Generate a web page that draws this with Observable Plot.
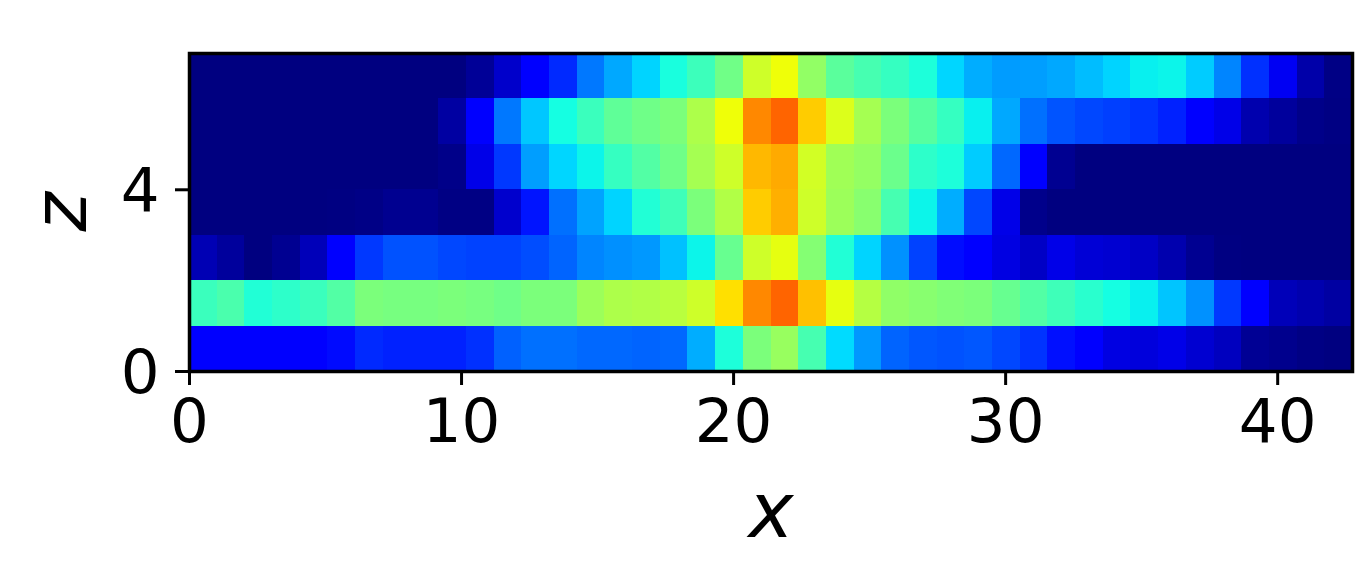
<!DOCTYPE html>
<html>
<head>
<meta charset="utf-8">
<style>
html,body{margin:0;padding:0;background:#fff;}
</style>
<script src="https://cdn.jsdelivr.net/npm/d3@7"></script>
<script src="https://cdn.jsdelivr.net/npm/@observablehq/plot@0.6"></script>
</head>
<body>
<div id="chart"></div>
<script>
const xTicks = [0, 10, 20, 30, 40];
const zTicks = [0, 4];
const xExtent = 42.75;
const zExtent = 7;

const row0 = [.11,.11,.11,.115,.11,.135,.165,.157,.157,.157,.172,.22,.235,.235,.227,.227,.223,.227,.295,.385,.5,.535,.435,.34,.274,.223,.21,.205,.21,.195,.175,.14,.11,.085,.08,.09,.07,.055,.018,.012,.004,0];
const row1 = [.42,.44,.39,.405,.42,.45,.5,.495,.495,.5,.495,.485,.5,.5,.54,.56,.565,.575,.6,.673,.766,.804,.707,.63,.57,.525,.515,.505,.5,.475,.45,.425,.4,.375,.36,.318,.267,.18,.115,.05,.04,.03];
const row2 = [.045,.025,0,.015,.05,.11,.18,.205,.205,.195,.19,.19,.2,.223,.255,.266,.274,.314,.365,.475,.6,.63,.51,.39,.333,.267,.19,.137,.115,.085,.06,.09,.075,.07,.06,.04,.015,.002,0,0,0,0];
const row3 = [0,0,0,0,0,.002,.006,.014,.014,.004,.004,.067,.145,.235,.285,.333,.39,.425,.5,.565,.694,.725,.6,.54,.515,.435,.365,.295,.195,.09,.01,0,0,0,0,0,0,0,0,0,0,0];
const row4 = [0,0,0,0,0,0,0,0,0,.008,.09,.18,.28,.335,.365,.415,.45,.485,.55,.6,.715,.73,.605,.545,.53,.48,.405,.385,.325,.227,.112,.015,0,0,0,0,0,0,0,0,0,0];
const row5 = [0,0,0,0,0,0,0,0,0,.03,.11,.243,.32,.375,.42,.465,.485,.5,.56,.64,.766,.804,.694,.617,.55,.5,.455,.415,.36,.29,.235,.207,.195,.187,.176,.157,.115,.09,.04,.025,.008,.003];
const row6 = [0,0,0,0,0,0,0,0,0,0,.02,.065,.11,.165,.243,.29,.333,.38,.423,.486,.6,.64,.527,.46,.435,.415,.385,.335,.295,.278,.28,.29,.31,.333,.36,.365,.325,.255,.172,.1,.036,.005];
const rows = [row0, row1, row2, row3, row4, row5, row6];

// matplotlib "jet" colormap
function seg(pts, t) {
  for (let i = 1; i < pts.length; i++) {
    if (t <= pts[i][0]) {
      const [a, va] = pts[i - 1], [b, vb] = pts[i];
      return va + (vb - va) * (t - a) / (b - a);
    }
  }
  return pts[pts.length - 1][1];
}
const R = [[0,0],[.35,0],[.66,1],[.89,1],[1,.5]];
const G = [[0,0],[.125,0],[.375,1],[.64,1],[.91,0],[1,0]];
const B = [[0,.5],[.11,1],[.34,1],[.65,0],[1,0]];
const jet = t => `rgb(${Math.round(255*seg(R,t))},${Math.round(255*seg(G,t))},${Math.round(255*seg(B,t))})`;

const nCols = row0.length;
const cw = xExtent / nCols;
const cells = rows.flatMap((r, j) => r.map((v, i) => ({i, j, v})));
const font = "'DejaVu Sans', sans-serif";

const chart = Plot.plot({
  width: 1360,
  height: 580,
  marginLeft: 189,
  marginRight: 8,
  marginTop: 53,
  marginBottom: 209,
  style: {fontFamily: font, background: "#fff", color: "#000"},
  x: {domain: [0, xExtent]},
  y: {domain: [0, zExtent]},
  color: {type: "linear", domain: [0, 1], interpolate: jet},
  marks: [
    Plot.rect(cells, {
      x1: d => d.i * cw,
      x2: d => (d.i + 1) * cw,
      y1: d => d.j,
      y2: d => d.j + 1,
      fill: d => d.v,
      shapeRendering: "crispEdges"
    }),
    Plot.frame({stroke: "#000", strokeWidth: 3.5}),
    Plot.axisX({ticks: xTicks, tickSize: 14, tickPadding: 13, fontSize: 61, strokeWidth: 3, tickFormat: "d", label: null, fill: "#000", stroke: "#000"}),
    Plot.axisY({ticks: zTicks, tickSize: 14, tickPadding: 0, fontSize: 61, strokeWidth: 3, tickFormat: () => "", label: null, stroke: "#000"}),
    Plot.axisY({ticks: zTicks, tickSize: 0, tickPadding: 30, fontSize: 61, dy: 2, tickFormat: "d", label: null, fill: "#000"}),
    Plot.text(["x"], {text: d => d, frameAnchor: "bottom", dy: 165, fontSize: 76, fontStyle: "italic", fill: "#000"}),
    Plot.text(["z"], {text: d => d, frameAnchor: "left", dx: -128, dy: 19, rotate: -90, fontSize: 75, fontStyle: "italic", fill: "#000"})
  ]
});
document.getElementById("chart").appendChild(chart);
</script>
</body>
</html>
